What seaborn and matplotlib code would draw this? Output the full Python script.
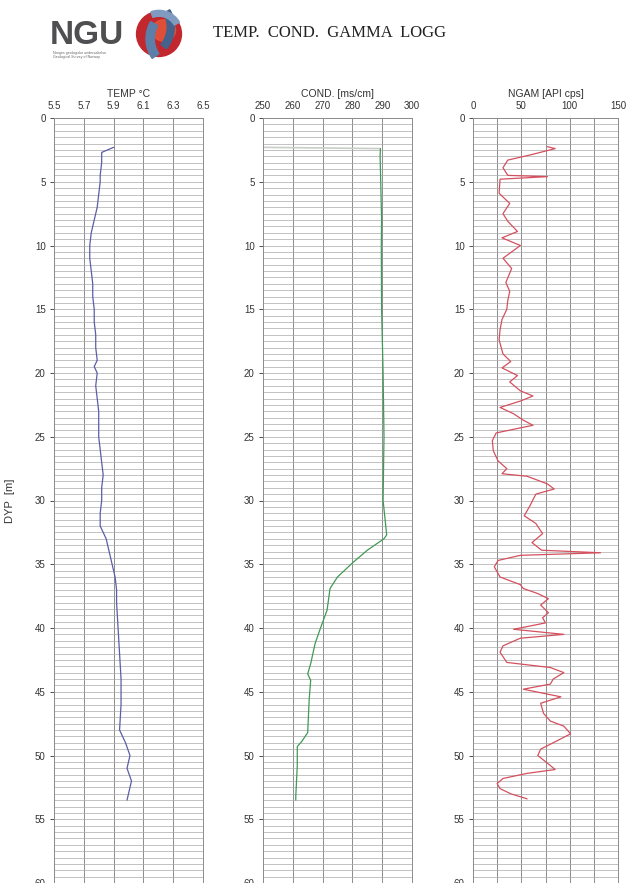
import numpy as np
import pandas as pd
import matplotlib
matplotlib.use("Agg")
import matplotlib.pyplot as plt
from matplotlib.patches import Circle, Wedge, Ellipse
import seaborn as sns

# temperatur
temp_depth = [2.3, 2.5, 2.7, 3.5, 4.5, 5.0, 6.0, 7.0, 8.0, 9.0, 10.0, 11.0, 12.0, 13.0,
              14.0, 15.0, 16.0, 17.0, 18.0, 19.0, 19.5, 20.0, 21.0, 22.0, 23.0, 24.0,
              25.0, 26.0, 27.0, 28.0, 29.0, 30.0, 31.0, 32.0, 33.0, 34.0, 35.0, 36.0,
              37.0, 38.0, 40.0, 42.0, 44.0, 46.0, 48.0, 49.0, 50.0, 51.0, 52.0, 53.0, 53.5]
temp_val = [5.90, 5.86, 5.82, 5.82, 5.81, 5.81, 5.80, 5.79, 5.77, 5.75, 5.74, 5.74, 5.75,
            5.76, 5.76, 5.77, 5.77, 5.78, 5.78, 5.79, 5.77, 5.79, 5.78, 5.79, 5.80, 5.80,
            5.80, 5.81, 5.82, 5.83, 5.82, 5.82, 5.81, 5.81, 5.85, 5.87, 5.89, 5.91, 5.92,
            5.92, 5.93, 5.94, 5.95, 5.95, 5.94, 5.98, 6.01, 5.99, 6.02, 6.00, 5.99]

# ledningsevne
cond_depth = [2.3, 2.4, 3.0, 5.0, 8.0, 10.0, 15.0, 20.0, 25.0, 30.0, 32.0, 32.7, 33.0,
              33.9, 34.9, 36.0, 36.9, 38.6, 40.2, 41.2, 42.8, 43.6, 44.1, 45.6, 48.2,
              48.9, 49.3, 50.8, 53.2, 53.5]
cond_val = [250.0, 289.4, 289.3, 289.5, 289.8, 289.7, 289.8, 290.3, 290.6, 290.3, 291.2,
            291.5, 290.6, 285.0, 280.0, 275.0, 272.5, 271.5, 269.0, 267.5, 266.0, 265.0,
            266.0, 265.5, 265.0, 263.0, 261.5, 261.5, 261.0, 261.0]

# naturlig gamma
ngam_depth = [2.25, 2.4, 2.9, 3.3, 3.9, 4.5, 4.6, 4.8, 5.9, 6.7, 7.5, 8.1, 8.9, 9.4, 10.0,
              11.0, 11.8, 12.9, 13.6, 14.3, 15.0, 15.8, 16.6, 17.4, 18.5, 19.1, 19.6,
              20.2, 20.7, 21.4, 21.8, 22.2, 22.7, 23.2, 23.7, 24.1, 24.7, 25.3, 26.1,
              26.9, 27.5, 27.9, 28.1, 28.7, 29.1, 29.5, 30.4, 31.2, 31.8, 32.6, 33.3,
              33.9, 34.1, 34.3, 34.7, 35.2, 36.0, 36.6, 36.9, 37.3, 37.7, 38.2, 38.8,
              39.2, 39.6, 40.1, 40.5, 40.8, 41.4, 41.9, 42.7, 43.1, 43.5, 44.0, 44.4,
              44.8, 45.4, 45.9, 46.7, 47.3, 47.7, 48.3, 49.0, 49.5, 50.0, 50.6, 51.1,
              51.4, 51.8, 52.2, 52.6, 53.0, 53.4]
ngam_val = [77, 85, 59, 36, 31, 36, 77, 28, 27, 38, 31, 36, 46, 30, 49,
            31, 40, 34, 38, 36, 35, 30, 28, 27, 31, 39, 30,
            46, 38, 49, 62, 49, 28, 42, 52, 62, 24, 20, 21,
            26, 35, 30, 56, 77, 84, 65, 59, 53, 65, 72, 61,
            71, 132, 49, 26, 22, 28, 49, 52, 67, 78, 70, 78,
            72, 75, 42, 94, 49, 31, 28, 35, 80, 94, 83, 80,
            52, 91, 70, 73, 80, 94, 101, 83, 70, 67, 77, 85,
            56, 31, 25, 28, 39, 56]

sns.set_style("white")
plt.rcParams['font.family'] = ['Liberation Sans', 'DejaVu Sans']

W, H = 627, 883
fig = plt.figure(figsize=(W / 100, H / 100), dpi=100)

panels = [
    dict(depth=temp_depth, val=temp_val, left=54, width=149, lim=(5.5, 6.5),
         ticks=[5.5, 5.7, 5.9, 6.1, 6.3, 6.5], labels=['5.5', '5.7', '5.9', '6.1', '6.3', '6.5'],
         grid=[5.5, 5.7, 5.9, 6.1, 6.3, 6.5], color='#5b5ea6', title='TEMP \u00b0C'),
    dict(depth=cond_depth, val=cond_val, left=263, width=149, lim=(250, 300),
         ticks=[250, 260, 270, 280, 290, 300], labels=['250', '260', '270', '280', '290', '300'],
         grid=[250, 260, 270, 280, 290, 300], color='#3f9a55', title='COND. [ms/cm]'),
    dict(depth=ngam_depth, val=ngam_val, left=473, width=145, lim=(0, 150),
         ticks=[0, 50, 100, 150], labels=['0', '50', '100', '150'],
         grid=[25, 75, 125], color='#d4505e', title='NGAM [API cps]'),
]

top = 118
for i, p in enumerate(panels):
    ax = fig.add_axes([p['left'] / W, 0.0, p['width'] / W, (H - top) / H])
    df = pd.DataFrame({'depth': p['depth'], 'value': p['val']})
    if i == 1:
        sns.lineplot(data=df.iloc[:2], x='value', y='depth', sort=False, estimator=None,
                     color='#c8cfc8', lw=1.2, ax=ax)
        df = df.iloc[1:]
    sns.lineplot(data=df, x='value', y='depth', sort=False, estimator=None,
                 color=p['color'], lw=0.9, ax=ax)
    ax.set_xlim(*p['lim'])
    ax.set_ylim(60, 0)
    ax.xaxis.tick_top()
    ax.xaxis.set_label_position('top')
    ax.set_xticks(p['ticks'])
    ax.set_xticklabels(p['labels'])
    ax.set_xticks(p['grid'], minor=True)
    ax.set_yticks(np.arange(0, 61, 5))
    ax.set_yticks(np.arange(0, 60.01, 0.5), minor=True)
    ax.tick_params(axis='x', which='both', length=0, labelsize=7, pad=5, colors='#333333')
    ax.tick_params(axis='y', which='major', length=3, width=0.6, direction='out',
                   labelsize=7, pad=3, colors='#333333', left=True)
    ax.tick_params(axis='y', which='minor', length=0)
    ax.grid(which='both', axis='y', color='#aaaaaa', lw=0.5)
    ax.grid(which='both', axis='x', color='#8c8c8c', lw=0.7)
    ax.set_axisbelow(True)
    for s in ax.spines.values():
        s.set_color('#8c8c8c')
        s.set_linewidth(0.7)
    ax.set_xlabel(p['title'], fontsize=7.5, labelpad=3, color='#333333')
    if i == 0:
        ax.set_ylabel('DYP  [m]', fontsize=8, color='#333333')
        ax.yaxis.set_label_coords((15 - 54) / 149, 0.5)
    else:
        ax.set_ylabel('')

# header
fig.text(50 / W, 1 - 36 / H, 'NGU', fontsize=24, fontweight='bold', color='#4f4f52',
         va='center', ha='left')
fig.text(53 / W, 1 - 55 / H, 'Norges geologiske unders\u00f8kelse\nGeological Survey of Norway',
         fontsize=2.6, color='#666666', va='center', ha='left', linespacing=1.3)
fig.text(213 / W, 1 - 33 / H, 'TEMP.  COND.  GAMMA  LOGG', fontsize=12,
         family=['Liberation Serif', 'DejaVu Serif'], color='#222222', va='center', ha='left')

lax = fig.add_axes([132 / W, 1 - 60 / H, 54 / W, 52 / H])
lax.set_xlim(-1.1, 1.1)
lax.set_ylim(-1.1, 1.1)
lax.set_aspect('equal')
lax.axis('off')
lax.add_patch(Circle((0, 0), 0.95, color='#c1272d'))
lax.add_patch(Ellipse((0.2, 0.15), 1.0, 0.9, color='#e8583a', alpha=0.8))
lax.add_patch(Wedge((0.9, -0.2), 1.45, 150, 215, width=0.35, color='#5b7fa8'))
lax.add_patch(Wedge((-0.8, 0.3), 1.45, -40, 30, width=0.3, color='#44628c'))
lax.add_patch(Wedge((0, 0), 1.0, 30, 110, width=0.25, color='#7f9cc0'))

fig.savefig('out.png', dpi=100)
